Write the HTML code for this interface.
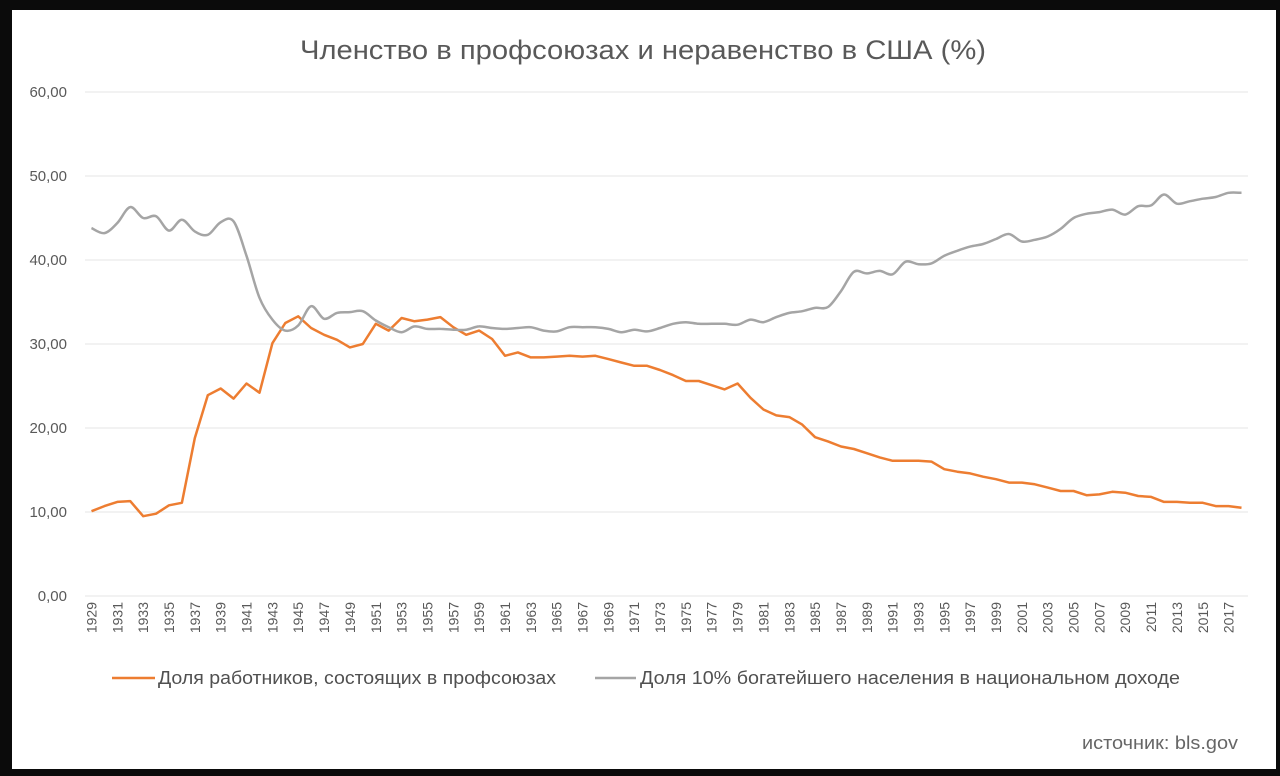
<!DOCTYPE html>
<html><head><meta charset="utf-8"><style>
html,body{margin:0;padding:0;background:#0b0b0b;width:1280px;height:776px;overflow:hidden;font-family:"Liberation Sans","DejaVu Sans",sans-serif;}
#panel{position:absolute;left:12px;top:10px;width:1264px;height:759px;background:#fff;}
</style></head><body>
<div id="panel"></div>
<svg id="chart" width="1280" height="776" style="position:absolute;left:0;top:0">
<text x="300" y="59" textLength="686" lengthAdjust="spacingAndGlyphs" font-size="27" fill="#595959">Членство в профсоюзах и неравенство в США (%)</text>
<g id="grid"></g><g id="ylab"></g><g id="xlab"></g><g id="series"></g>
<g>
<line x1="112" y1="678" x2="155" y2="678" stroke="#ED7D31" stroke-width="2.5"/>
<text x="158" y="684" textLength="398" lengthAdjust="spacingAndGlyphs" font-size="18" fill="#505050">Доля работников, состоящих в профсоюзах</text>
<line x1="595" y1="678" x2="636" y2="678" stroke="#A5A5A5" stroke-width="2.5"/>
<text x="640" y="684" textLength="540" lengthAdjust="spacingAndGlyphs" font-size="18" fill="#505050">Доля 10% богатейшего населения в национальном доходе</text>
</g>
<text x="1082" y="749" textLength="156" lengthAdjust="spacingAndGlyphs" font-size="18" fill="#666">источник: bls.gov</text>
</svg>
<script>
const startYear = 1929;
const unionShare = [10.1,10.7,11.2,11.3,9.5,9.8,10.8,11.1,18.8,23.9,24.7,23.5,25.3,24.2,30.1,32.5,33.3,31.9,31.1,30.5,29.6,30.0,32.4,31.6,33.1,32.7,32.9,33.2,32.0,31.1,31.6,30.6,28.6,29.0,28.4,28.4,28.5,28.6,28.5,28.6,28.2,27.8,27.4,27.4,26.9,26.3,25.6,25.6,25.1,24.6,25.3,23.6,22.2,21.5,21.3,20.4,18.9,18.4,17.8,17.5,17.0,16.5,16.1,16.1,16.1,16.0,15.1,14.8,14.6,14.2,13.9,13.5,13.5,13.3,12.9,12.5,12.5,12.0,12.1,12.4,12.3,11.9,11.8,11.2,11.2,11.1,11.1,10.7,10.7,10.5];
const top10Share = [43.8,43.2,44.4,46.3,45.0,45.2,43.5,44.8,43.4,43.0,44.5,44.6,40.5,35.5,32.9,31.6,32.2,34.5,33.0,33.7,33.8,33.9,32.8,32.0,31.4,32.1,31.8,31.8,31.7,31.7,32.1,31.9,31.8,31.9,32.0,31.6,31.5,32.0,32.0,32.0,31.8,31.4,31.7,31.5,31.9,32.4,32.6,32.4,32.4,32.4,32.3,32.9,32.6,33.2,33.7,33.9,34.3,34.4,36.3,38.6,38.4,38.7,38.3,39.8,39.5,39.6,40.5,41.1,41.6,41.9,42.5,43.1,42.2,42.4,42.8,43.7,45.0,45.5,45.7,46.0,45.4,46.4,46.5,47.8,46.7,47.0,47.3,47.5,48.0,48.0];
const yTicks = [0,10,20,30,40,50,60];
const yTickLabels = ["0,00","10,00","20,00","30,00","40,00","50,00","60,00"];

const NS="http://www.w3.org/2000/svg";
const n = unionShare.length;
const L=85,R=1248,step=(R-L)/n;
const x=i=>L+step*(i+0.5);
const y=v=>596-v*(504/60);
function mk(tag,attrs,parent){const e=document.createElementNS(NS,tag);for(const k in attrs)e.setAttribute(k,attrs[k]);document.getElementById(parent).appendChild(e);return e;}
yTicks.forEach((t,i)=>{
  const g=mk('line',{x1:L,x2:R,y1:y(t),y2:y(t),stroke:'#e6e6e6','stroke-width':1},'grid');
  
  
  const tx=mk('text',{x:67,y:y(t)+5,'text-anchor':'end','font-size':15,fill:'#595959'},'ylab');
  tx.textContent=yTickLabels[i];
  
  
});
for(let i=0;i<n;i+=2){
  const xx=x(i)+5;
  const tx=mk('text',{x:0,y:0,'text-anchor':'end','font-size':14,fill:'#595959',transform:`translate(${xx},602) rotate(-90)`},'xlab');
  tx.textContent=String(startYear+i);
  
  
}
let d='';
unionShare.forEach((v,i)=>{d+=(i?'L':'M')+x(i).toFixed(1)+','+y(v).toFixed(1);});
const p1=mk('path',{d:d,fill:'none',stroke:'#ED7D31','stroke-width':2.5,'stroke-linejoin':'round'},'series');


const pts=top10Share.map((v,i)=>[x(i),y(v)]);
let d2='M'+pts[0][0]+','+pts[0][1];
for(let i=0;i<pts.length-1;i++){
  const p0=pts[Math.max(0,i-1)],a=pts[i],b=pts[i+1],p3=pts[Math.min(pts.length-1,i+2)];
  const c1=[a[0]+(b[0]-p0[0])/6,a[1]+(b[1]-p0[1])/6],c2=[b[0]-(p3[0]-a[0])/6,b[1]-(p3[1]-a[1])/6];
  d2+=`C${c1[0].toFixed(1)},${c1[1].toFixed(1)} ${c2[0].toFixed(1)},${c2[1].toFixed(1)} ${b[0].toFixed(1)},${b[1].toFixed(1)}`;
}
const p2=mk('path',{d:d2,fill:'none',stroke:'#A5A5A5','stroke-width':2.5},'series');


</script>
</body></html>
